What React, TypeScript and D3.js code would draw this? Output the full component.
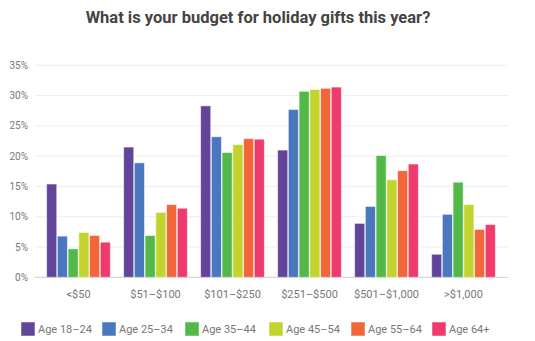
import React from "react";
import * as d3 from "d3";

const categories = ["<$50", "$51\u2013$100", "$101\u2013$250", "$251\u2013$500", "$501\u2013$1,000", ">$1,000"];
const seriesNames = ["Age 18\u201324", "Age 25\u201334", "Age 35\u201344", "Age 45\u201354", "Age 55\u201364", "Age 64+"];
const age18_24 = [15.4, 21.5, 28.3, 21.0, 8.9, 3.8];
const age25_34 = [6.8, 18.9, 23.2, 27.7, 11.7, 10.4];
const age35_44 = [4.7, 6.9, 20.6, 30.7, 20.1, 15.7];
const age45_54 = [7.4, 10.7, 21.9, 31.0, 16.1, 12.0];
const age55_64 = [6.9, 12.0, 22.9, 31.2, 17.6, 7.9];
const age64plus = [5.8, 11.4, 22.8, 31.4, 18.7, 8.7];
const yTicks = [0, 5, 10, 15, 20, 25, 30, 35];
const colors = ["#62449a", "#4a77be", "#52b848", "#c3d32e", "#f2673a", "#ef3a6c"];

const series = [age18_24, age25_34, age35_44, age45_54, age55_64, age64plus];

export default function App() {
  const W = 535, H = 341;
  const y = d3.scaleLinear().domain([0, 35]).range([277.3, 65.3]);
  const x0 = d3.scaleBand<string>().domain(categories).range([40, 502]).paddingInner(12 / 77).paddingOuter(6 / 77);
  const x1 = d3.scaleBand<number>().domain(d3.range(series.length)).range([0, x0.bandwidth()]).padding(0.06);
  const legendX = [21, 102, 185, 269, 351, 432];
  const font = "Roboto, 'Noto Sans', sans-serif";
  return (
    <svg width={W} height={H} style={{ position: "absolute", left: 0, top: 0, background: "#fff" }} fontFamily={font}>
      <text x={258} y={23} textAnchor="middle" fontSize={16.5} fontWeight="bold" fill="#444">
        What is your budget for holiday gifts this year?
      </text>
      {yTicks.map((t) => (
        <g key={t}>
          <line x1={35} x2={508} y1={y(t)} y2={y(t)} stroke={t === 0 ? "#ccc" : "#eee"} strokeWidth={1} />
          <text x={28} y={y(t) + 3.5} textAnchor="end" fontSize={10} fill="#777">{t}%</text>
        </g>
      ))}
      {categories.map((c, ci) => (
        <g key={c} transform={`translate(${x0(c)},0)`}>
          {series.map((s, si) => (
            <rect key={si} x={x1(si)} y={y(s[ci])} width={x1.bandwidth()} height={y(0) - y(s[ci])}
              fill={colors[si]} stroke="rgba(255,255,255,0.5)" strokeWidth={1} />
          ))}
          <text x={x0.bandwidth() / 2} y={298} textAnchor="middle" fontSize={11} fill="#777">{c}</text>
        </g>
      ))}
      {seriesNames.map((n, i) => (
        <g key={n} transform={`translate(${legendX[i]},322)`}>
          <rect x={0} y={0} width={14} height={14} fill={colors[i]} stroke="rgba(255,255,255,0.5)" />
          <text x={17} y={11} fontSize={11} fill="#777">{n}</text>
        </g>
      ))}
    </svg>
  );
}
